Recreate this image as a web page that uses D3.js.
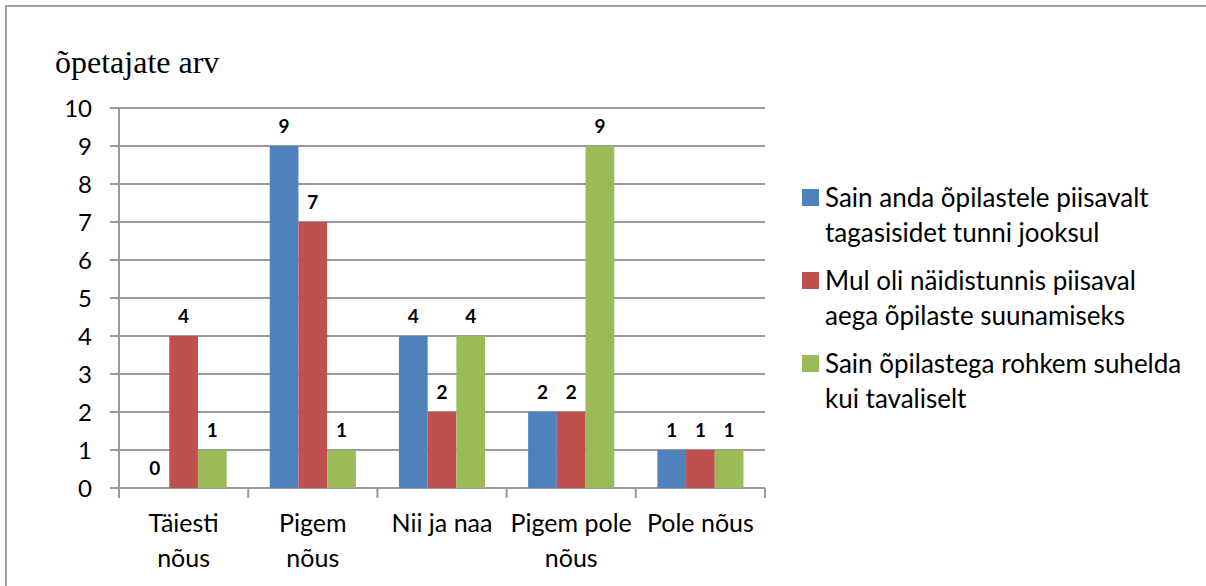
<!DOCTYPE html>
<html>
<head>
<meta charset="utf-8">
<script src="https://cdn.jsdelivr.net/npm/d3@7"></script>
<style>
  body { margin: 0; background: #fff; }
  svg { display: block; }
</style>
</head>
<body>
<svg id="chart"></svg>
<script>
// data
const categories = ["Täiesti\nnõus", "Pigem\nnõus", "Nii ja naa", "Pigem pole\nnõus", "Pole nõus"];
const seriesNames = [
  "Sain anda õpilastele piisavalt\ntagasisidet tunni jooksul",
  "Mul oli näidistunnis piisaval\naega õpilaste suunamiseks",
  "Sain õpilastega rohkem suhelda\nkui tavaliselt"
];
const seriesA = [0, 9, 4, 2, 1];
const seriesB = [4, 7, 2, 2, 1];
const seriesC = [1, 1, 4, 9, 1];
const yTicks = [0, 1, 2, 3, 4, 5, 6, 7, 8, 9, 10];
const axisTitle = "õpetajate arv";

const colors = ["#4F81BD", "#C0504D", "#9BBB59"];
const allSeries = [seriesA, seriesB, seriesC];

const width = 1206, height = 586;
const sansFont = "Lato, 'Open Sans', sans-serif";
const gridColor = "#9a9a9a";

const svg = d3.select("#chart")
    .attr("width", width)
    .attr("height", height)
    .attr("font-family", sansFont);

// outer frame (only left and top visible)
svg.append("rect")
    .attr("x", 6).attr("y", 6)
    .attr("width", width + 20).attr("height", height + 20)
    .attr("fill", "none")
    .attr("stroke", "#a0a0a0")
    .attr("stroke-width", 2);

const plotLeft = 119, plotRight = 765, plotTop = 108, plotBottom = 488;

const y = d3.scaleLinear().domain([0, 10]).range([plotBottom, plotTop]);
const x = d3.scaleBand().domain(categories).range([plotLeft, plotRight]);
const xInner = d3.scaleBand()
    .domain(d3.range(allSeries.length))
    .range([0, x.bandwidth()])
    .paddingInner(0)
    .paddingOuter(0.75);

// gridlines + tick marks on y
svg.append("g")
    .selectAll("line")
    .data(yTicks)
    .join("line")
    .attr("x1", plotLeft - 9)
    .attr("x2", plotRight)
    .attr("y1", d => y(d))
    .attr("y2", d => y(d))
    .attr("stroke", gridColor)
    .attr("stroke-width", 2);

// y axis line
svg.append("line")
    .attr("x1", plotLeft).attr("x2", plotLeft)
    .attr("y1", plotTop).attr("y2", plotBottom)
    .attr("stroke", gridColor)
    .attr("stroke-width", 2);

// category boundary ticks
const boundaries = categories.map(c => x(c)).concat([plotRight]);
svg.append("g")
    .selectAll("line")
    .data(boundaries)
    .join("line")
    .attr("x1", d => d).attr("x2", d => d)
    .attr("y1", plotBottom).attr("y2", plotBottom + 10)
    .attr("stroke", gridColor)
    .attr("stroke-width", 2);

// y tick labels
svg.append("g")
    .selectAll("text")
    .data(yTicks)
    .join("text")
    .attr("x", 92)
    .attr("y", d => y(d))
    .attr("dy", "0.36em")
    .attr("text-anchor", "end")
    .attr("font-size", 24)
    .attr("fill", "#000")
    .text(d => d);

// axis title
svg.append("text")
    .attr("x", 55)
    .attr("y", 73)
    .attr("font-family", "'Liberation Serif', 'DejaVu Serif', serif")
    .attr("font-size", 32)
    .attr("fill", "#000")
    .text(axisTitle);

// bars
allSeries.forEach((vals, s) => {
  svg.append("g")
    .selectAll("rect")
    .data(vals)
    .join("rect")
    .attr("x", (d, i) => x(categories[i]) + xInner(s))
    .attr("y", d => y(d))
    .attr("width", xInner.bandwidth())
    .attr("height", d => y(0) - y(d))
    .attr("fill", colors[s]);

  svg.append("g")
    .selectAll("text")
    .data(vals)
    .join("text")
    .attr("x", (d, i) => x(categories[i]) + xInner(s) + xInner.bandwidth() / 2)
    .attr("y", d => y(d) - 13)
    .attr("text-anchor", "middle")
    .attr("font-size", 19)
    .attr("font-weight", "bold")
    .attr("fill", "#000")
    .text(d => d);
});

// category labels
const catLabels = svg.append("g")
    .selectAll("text")
    .data(categories)
    .join("text")
    .attr("x", d => x(d) + x.bandwidth() / 2)
    .attr("y", 532)
    .attr("text-anchor", "middle")
    .attr("font-size", 25)
    .attr("fill", "#000");
catLabels.selectAll("tspan")
    .data(d => d.split("\n"))
    .join("tspan")
    .attr("x", function () { return d3.select(this.parentNode).attr("x"); })
    .attr("dy", (d, i) => i === 0 ? 0 : 35)
    .text(d => d);

// legend
const legend = svg.append("g")
    .selectAll("g")
    .data(seriesNames)
    .join("g")
    .attr("transform", (d, i) => `translate(802, ${198 + i * 83})`);

legend.append("rect")
    .attr("x", 0).attr("y", -9)
    .attr("width", 17).attr("height", 17)
    .attr("fill", (d, i) => colors[i]);

legend.append("text")
    .attr("x", 23)
    .attr("y", 0)
    .attr("font-size", 26)
    .attr("fill", "#000")
    .selectAll("tspan")
    .data(d => d.split("\n"))
    .join("tspan")
    .attr("x", 23)
    .attr("y", (d, i) => i * 35)
    .attr("dy", "0.36em")
    .text(d => d);
</script>
</body>
</html>
